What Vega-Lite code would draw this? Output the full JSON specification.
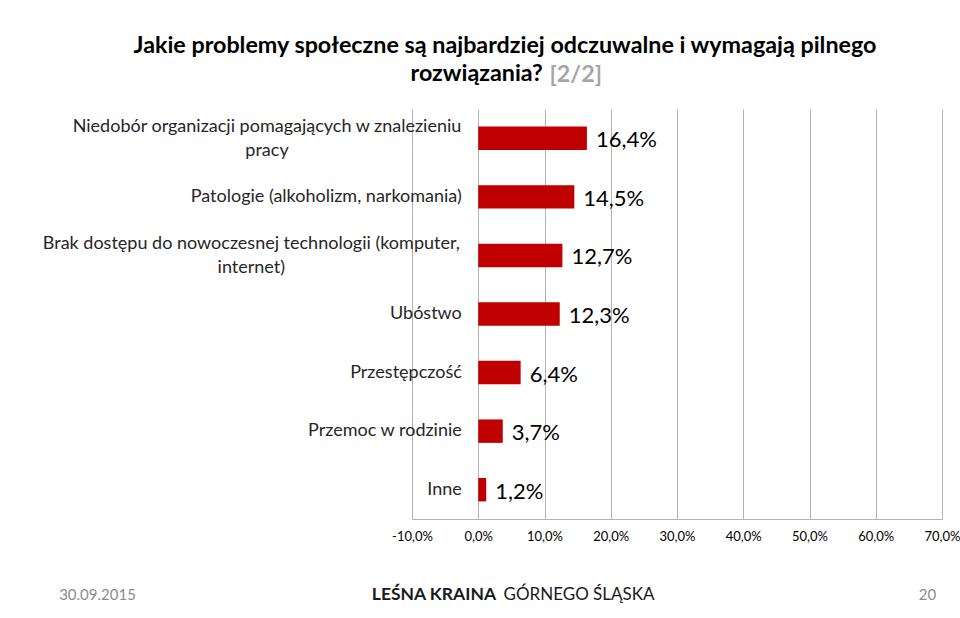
{
  "$schema": "https://vega.github.io/schema/vega-lite/v6.json",
  "autosize": {"type": "none"},
  "padding": {"left": 412, "top": 109, "right": 18, "bottom": 99},
  "width": 530,
  "height": 410,
  "background": "white",
  "config": {
    "view": {"stroke": null},
    "font": "Lato",
    "locale": {"number": {"decimal": ",", "thousands": " ", "grouping": [3], "currency": ["", ""], "minus": "-"}}
  },
  "title": {
    "text": ["Jakie problemy społeczne są najbardziej odczuwalne i wymagają pilnego", "rozwiązania?\u00a0\u00a0\u00a0\u00a0\u00a0\u00a0\u00a0\u00a0\u00a0\u00a0\u200b"],
    "subtitle": "\u200b\u00a0\u00a0\u00a0\u00a0\u00a0\u00a0\u00a0\u00a0\u00a0\u00a0\u00a0\u00a0\u00a0\u00a0\u00a0\u00a0\u00a0\u00a0\u00a0\u00a0\u00a0\u00a0\u00a0\u00a0\u00a0[2/2]",
    "anchor": "middle",
    "dx": -172,
    "offset": 22,
    "font": "Lato",
    "fontSize": 23.3,
    "fontWeight": "bold",
    "color": "#000000",
    "lineHeight": 28,
    "subtitleFont": "Lato",
    "subtitleFontSize": 23.3,
    "subtitleFontWeight": "bold",
    "subtitleColor": "#A6A6A6",
    "subtitleLineHeight": 28,
    "subtitlePadding": -23
  },
  "data": {
    "values": [
      {"k": "Niedobór organizacji pomagających w znalezieniu|pracy", "v": 0.164},
      {"k": "Patologie (alkoholizm, narkomania)", "v": 0.145},
      {"k": "Brak dostępu do nowoczesnej technologii (komputer,|internet)", "v": 0.127},
      {"k": "Ubóstwo", "v": 0.123},
      {"k": "Przestępczość", "v": 0.064},
      {"k": "Przemoc w rodzinie", "v": 0.037},
      {"k": "Inne", "v": 0.012}
    ]
  },
  "resolve": {"axis": {"x": "independent", "y": "independent"}},
  "layer": [
    {
      "mark": {"type": "bar", "color": "#C00000"},
      "encoding": {
        "y": {
          "field": "k", "type": "nominal", "sort": null,
          "scale": {"paddingInner": 0.6, "paddingOuter": 0.3},
          "axis": {
            "orient": "left",
            "offset": -66.3,
            "domain": false, "ticks": false, "grid": false,
            "labelExpr": "split(datum.label, '|')",
            "labelFont": "Lato", "labelFontSize": 18, "labelColor": "#262626",
            "labelLineHeight": 24, "labelLimit": 0, "labelBaseline": "middle",
            "labelAlign": {"condition": {"test": "indexof(datum.value, '|') >= 0", "value": "center"}, "value": "right"},
            "labelPadding": {"condition": [
              {"test": "indexof(datum.value, 'Niedob') == 0", "value": 211.8},
              {"test": "indexof(datum.value, 'Brak') == 0", "value": 227.5}
            ], "value": 17},
            "labelOffset": {"condition": {"test": "indexof(datum.value, '|') >= 0", "value": -11}, "value": 0},
            "title": "LEŚNA KRAINA",
            "titleAngle": 0, "titleX": -107, "titleY": 485,
            "titleAlign": "left", "titleBaseline": "middle",
            "titleFont": "Lato", "titleFontSize": 17.5, "titleFontWeight": "bold", "titleColor": "#1a1a1a"
          }
        },
        "x": {
          "field": "v", "type": "quantitative",
          "scale": {"domain": [-0.1, 0.7], "nice": false, "zero": false},
          "axis": {
            "orient": "bottom",
            "values": [-0.1, 0, 0.1, 0.2, 0.3, 0.4, 0.5, 0.6, 0.7],
            "format": ".1%",
            "grid": true, "gridColor": "#B3B3B3", "gridWidth": 1,
            "domain": true, "domainColor": "#B3B3B3", "domainWidth": 1,
            "ticks": false,
            "labelPadding": 11, "labelFont": "Lato", "labelFontSize": 13, "labelColor": "#000000",
            "labelFlush": false, "labelOverlap": false,
            "title": "30.09.2015",
            "titleX": -315, "titleY": 75,
            "titleAlign": "center", "titleBaseline": "middle",
            "titleFont": "Lato", "titleFontSize": 15, "titleFontWeight": "normal", "titleColor": "#8C8C8C"
          }
        }
      }
    },
    {
      "mark": {"type": "text", "align": "left", "baseline": "middle", "dx": 9, "dy": 2, "fontSize": 22, "font": "Lato", "color": "#000000"},
      "encoding": {
        "y": {
          "field": "k", "type": "nominal", "sort": null,
          "axis": {
            "orient": "right",
            "labels": false, "domain": false, "ticks": false, "grid": false,
            "title": "GÓRNEGO ŚLĄSKA",
            "titleAngle": 0, "titleX": -439, "titleY": 485,
            "titleAlign": "left", "titleBaseline": "middle",
            "titleFont": "Lato", "titleFontSize": 17, "titleFontWeight": "normal", "titleColor": "#1a1a1a"
          }
        },
        "x": {
          "field": "v", "type": "quantitative",
          "axis": {
            "orient": "top",
            "labels": false, "domain": false, "ticks": false, "grid": false,
            "title": "20",
            "titleX": 515, "titleY": 485,
            "titleAlign": "center", "titleBaseline": "middle",
            "titleFont": "Lato", "titleFontSize": 15, "titleFontWeight": "normal", "titleColor": "#8C8C8C"
          }
        },
        "text": {"field": "v", "type": "quantitative", "format": ".1%"}
      }
    }
  ]
}
